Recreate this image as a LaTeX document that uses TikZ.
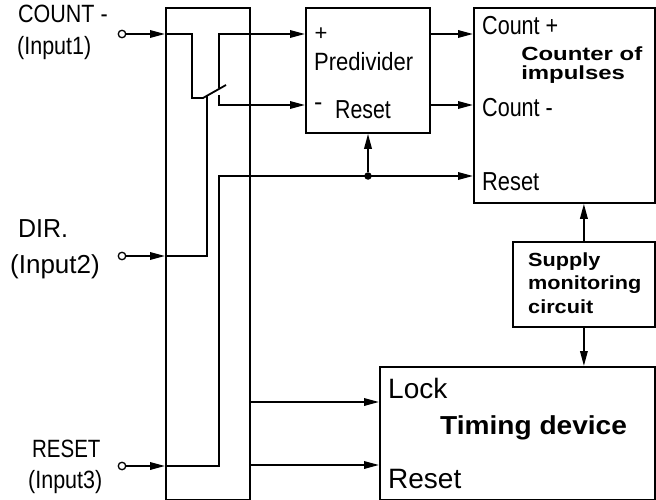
\documentclass[tikz,border=0pt]{standalone}
\usepackage{fontspec}
\setmainfont{Liberation Sans}
\usetikzlibrary{arrows.meta}

\newcommand{\fsz}[1]{\fontsize{#1}{#1}\selectfont}

\tikzset{
  box/.style={draw, line width=1.8pt, inner sep=0, anchor=north west},
  txt/.style={inner sep=0, anchor=base west},
  bld/.style={inner sep=0, anchor=base west, align=left},
  wire/.style={line width=1.8pt},
  arr/.style={wire, -{Triangle[length=15pt,width=7.5pt]}},
  term/.style={circle, draw, line width=1.3pt, fill=white, inner sep=0, minimum size=7.5pt},
  dot/.style={circle, fill, inner sep=0, minimum size=7.5pt}
}

\begin{document}
\begin{tikzpicture}[x=1pt, y=-1pt]
\useasboundingbox (0,0) rectangle (656,500);

% blocks
\node[box, minimum width=84pt, minimum height=492pt] (bus) at (165,7) {};
\node[box, minimum width=124pt, minimum height=125pt] (pred) at (305,7) {};
\node[box, minimum width=181pt, minimum height=195pt] (cnt) at (473,7) {};
\node[box, minimum width=142pt, minimum height=85pt] (sup) at (512,241) {};
\node[box, minimum width=275pt, minimum height=133pt] (tim) at (379,366) {};

% inputs
\node[txt, font=\fsz{25}, xscale=.86] (lcount) at (18,23) {COUNT -};
\node[txt, font=\fsz{25}, xscale=.86] (lin1) at (17,55) {(Input1)};
\node[txt, font=\fsz{26}, xscale=.96] (ldir) at (18,237) {DIR.};
\node[txt, font=\fsz{26}] (lin2) at (10,273) {(Input2)};
\node[txt, font=\fsz{25}, xscale=.82] (lreset) at (32,457) {RESET};
\node[txt, font=\fsz{25}, xscale=.86] (lin3) at (28,488) {(Input3)};

\node[term] (in1) at (122,34) {};
\node[term] (in2) at (122,256) {};
\node[term] (in3) at (122,466) {};

\coordinate (pivot) at (203,98);
\coordinate (blade) at (226,85);
\coordinate (pminus) at (305,105);
\coordinate (lockin) at (379,402);
\coordinate (resin) at (379,465);

% wiring
\draw[wire] (in1 -| bus.west) -| (192,98) -- (pivot) -- (blade);
\draw[wire] (in2 -| bus.west) -| (207,96);
\draw[arr] (219,88) |- (pred.west |- in1);
\draw[arr] (219,95) |- (pminus);
\draw[arr] (in3 -| bus.west) -| (219,176) -- (cnt.west |- 0,176);
\node[dot] (jn) at (368,176) {};
\draw[arr] (jn) -- (pred.south -| jn);
\draw[arr] (pred.east |- in1) -- (cnt.west |- in1);
\draw[arr] (pred.east |- pminus) -- (cnt.west |- pminus);
\draw[arr] (sup.north) -- (cnt.south -| sup.north);
\draw[arr] (sup.south) -- (tim.north -| sup.south);
\draw[arr] (bus.east |- lockin) -- (lockin);
\draw[arr] (bus.east |- resin) -- (resin);
\draw[arr] (in1) -- (in1 -| bus.west);
\draw[arr] (in2) -- (in2 -| bus.west);
\draw[arr] (in3) -- (in3 -| bus.west);

% block texts
\node[inner sep=0, font=\fsz{22}] (plus) at (321,34) {+};
\node[txt, font=\fsz{25}] (minus) at (314,111) {-};
\node[txt, font=\fsz{25}, xscale=.88] (lpred) at (314,71) {Predivider};
\node[txt, font=\fsz{26}, xscale=.82] (lpres) at (335,119) {Reset};
\node[txt, font=\fsz{26}, xscale=.83] (lcp) at (482,35) {Count +};
\node[txt, font=\fsz{26}, xscale=.83] (lcm) at (482,117) {Count -};
\node[txt, font=\fsz{26}, xscale=.84] (lcr) at (482,190) {Reset};
\node[bld, font=\bfseries\fsz{19}, xscale=1.26] (lcnt) at (521,80)
  {Counter of\\impulses};
\node[bld, font=\bfseries\fsz{19}, xscale=1.14] (lsup) at (528,313)
  {Supply\\[4.5pt]monitoring\\[4.5pt]circuit};
\node[txt, font=\fsz{28}] (llock) at (388,398) {Lock};
\node[txt, font=\bfseries\fsz{26}, xscale=1.08] (ltim) at (440,434) {Timing device};
\node[txt, font=\fsz{28}] (ltr) at (388,488) {Reset};
\end{tikzpicture}
\end{document}
